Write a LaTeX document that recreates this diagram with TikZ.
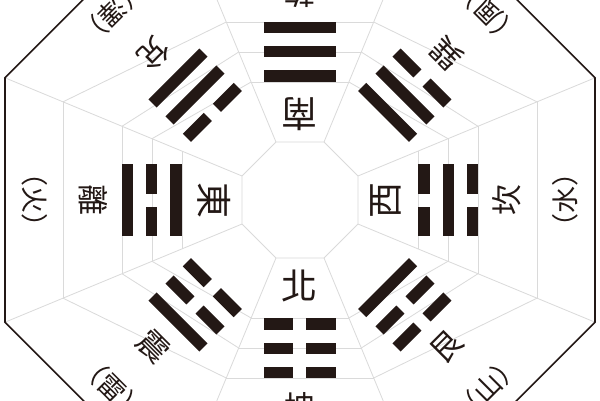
\documentclass[tikz,border=0pt]{standalone}
\usepackage{fontspec}
\newfontfamily\cjk{Noto Sans CJK TC}
\definecolor{ink}{RGB}{35,24,21}
\definecolor{webgray}{RGB}{218,218,218}
\begin{document}
\begin{tikzpicture}[x=1pt,y=1pt,
  web/.style={draw=webgray, line width=0.8pt},
  rim/.style={draw=ink, line width=1.6pt, line join=miter},
  bar/.style={fill=ink},
  dirlab/.style={font=\cjk\fontsize{36}{36}\selectfont, inner sep=0pt, text=ink},
  namelab/.style={font=\cjk\fontsize{31}{31}\selectfont, inner sep=0pt, text=ink},
  parlab/.style={font=\cjk\fontsize{27}{27}\selectfont, inner sep=0pt, text=ink}]
\useasboundingbox (-300,-200) rectangle (300,200);
\clip (-300,-200) rectangle (300,200);
\fill[white] (-300,-200) rectangle (300,200);
\def\ri{62.78}
\def\ro{319.3}
% spokes
\foreach \a in {22.5,67.5,...,337.5}
  \draw[web] (\a:\ri) -- (\a:\ro);
% inner octagon
\draw[web] (22.5:\ri) -- (67.5:\ri) -- (112.5:\ri) -- (157.5:\ri) -- (202.5:\ri) -- (247.5:\ri) -- (292.5:\ri) -- (337.5:\ri) -- cycle;
% rings in the axis sectors
\foreach \t in {0,90,180,270}{
  \pgfmathsetmacro\lo{\t-22.5}
  \pgfmathsetmacro\hi{\t+22.5}
  \foreach \r in {127.72,160.19,192.67,256.53}
    \draw[web] (\lo:\r) -- (\hi:\r);
}
% slanted web lines in the diagonal sectors
\foreach \h/\v in {157.5/112.5, 22.5/67.5, -22.5/-67.5, 202.5/247.5}{
  \draw[web] (\h:256.53) -- (\v:192.67);
  \draw[web] (\h:192.67) -- (\v:160.19);
  \draw[web] (\h:160.19) -- (\v:127.72);
}
% outer octagon
\draw[rim] (22.5:\ro) -- (67.5:\ro) -- (112.5:\ro) -- (157.5:\ro) -- (202.5:\ro) -- (247.5:\ro) -- (292.5:\ro) -- (337.5:\ro) -- cycle;
% trigrams: angle / inner / middle / outer (1 = solid, 0 = broken)
\foreach \t/\p/\q/\s in {90/1/1/1, 270/0/0/0, 180/1/0/1, 0/0/1/0, 135/0/1/1, 45/1/1/0, 225/0/0/1, 315/1/0/0}{
  \pgfmathsetmacro\rot{\t-90}
  \begin{scope}[rotate=\rot]
    \foreach \d/\k in {124/\p, 148.5/\q, 172.5/\s}{
      \ifnum\k=1
        \fill[bar] (-36,\d-5.75) rectangle (36,\d+5.75);
      \else
        \fill[bar] (-36,\d-5.75) rectangle (-6.5,\d+5.75);
        \fill[bar] (6.5,\d-5.75) rectangle (36,\d+5.75);
      \fi
    }
  \end{scope}
}
% direction labels
\foreach \t/\txt in {90/南, 270/北, 180/東, 0/西}{
  \pgfmathsetmacro\rot{\t+90}
  \node[dirlab, rotate=\rot] (dir\t) at (\t:86) {\txt};
}
% trigram names
\foreach \t/\txt in {90/乾, 270/坤, 180/離, 0/坎, 135/兌, 45/巽, 225/震, 315/艮}{
  \pgfmathsetmacro\rot{\t+90}
  \node[namelab, rotate=\rot] (name\t) at (\t:207) {\txt};
}
% nature labels
\foreach \t/\txt in {90/（天）, 270/（地）, 180/（火）, 0/（水）, 135/（澤）, 45/（風）, 225/（雷）, 315/（山）}{
  \pgfmathsetmacro\rot{\t+90}
  \node[parlab, rotate=\rot] (nat\t) at (\t:265) {\txt};
}
\end{tikzpicture}
\end{document}
